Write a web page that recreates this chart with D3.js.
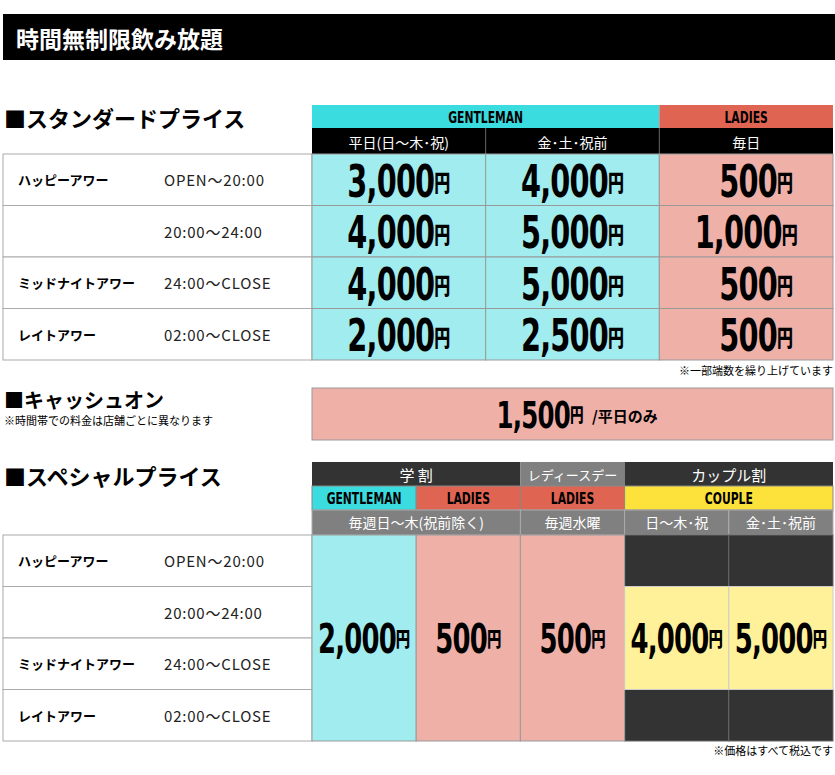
<!DOCTYPE html><html><head><meta charset="utf-8"><script src="https://cdn.jsdelivr.net/npm/d3@7"></script>
<style>body{margin:0;background:#fff}</style></head><body><script>
const periods=["ハッピーアワー","","ミッドナイトアワー","レイトアワー"];
const times=["OPEN～20:00","20:00～24:00","24:00～CLOSE","02:00～CLOSE"];
const stdCols=["平日(日～木･祝)","金･土･祝前","毎日"];
const stdPrices=[[3000,4000,500],[4000,5000,1000],[4000,5000,500],[2000,2500,500]];
const cashPrice=1500;
const spCols=["毎週日～木(祝前除く)","毎週水曜","日～木･祝","金･土･祝前"];
const spPrices=[2000,500,500,4000,5000];
const JP="'Noto Sans CJK JP',sans-serif";
const NUM="'DejaVu Sans Condensed','DejaVu Sans',sans-serif";
const svg=d3.select("body").append("svg").attr("width",835).attr("height",775);
const fmt=d3.format(",");
const cyan="#3adcdf",red="#e06452",lc="#a0ecef",lp="#efb0a8",yel="#fde23c",ly="#fff09a",dk="#333",gr="#808080",bd="#aaa";
function rect(x,y,w,h,f,s){return svg.append("rect").attr("x",x).attr("y",y).attr("width",w).attr("height",h).attr("fill",f).attr("stroke",s||"none");}
function text(x,y,t,o){o=o||{};const e=svg.append("text").attr("x",x).attr("y",y).text(t).attr("font-family",o.f||JP).attr("font-size",o.s||14).attr("font-weight",o.w||"normal").attr("fill",o.c||"#000").attr("text-anchor",o.a||"start").attr("dominant-baseline","central");return e;}
function label(x,y,t,c){return text(x,y,t,{f:"'DejaVu Sans Condensed',sans-serif",w:"bold",s:15,c:c||"#000",a:"middle"}).attr("transform",`translate(${x},${y}) scale(0.8,1.1) translate(${-x},${-y})`);}
function price(cx,cy,v,size){const g=svg.append("text").attr("x",cx).attr("y",cy).attr("text-anchor","middle").attr("dominant-baseline","central").attr("font-family",NUM).attr("font-weight","bold").attr("fill","#000");
 g.append("tspan").attr("font-size",size).attr("letter-spacing",-1).text(fmt(v));g.append("tspan").attr("font-family",JP).attr("font-weight","900").attr("font-size",size*0.5).text("円");
 g.attr("transform",`translate(${cx},${cy}) scale(0.8,1.12) translate(${-cx},${-cy})`);return g;}
function timeT(y,t){return text(164,y,t,{s:15,c:"#222"}).attr("letter-spacing",0.8);}
// title
rect(3,14,832,46,"#000");
text(16,38,"時間無制限飲み放題",{s:23,w:"bold",c:"#fff"});
// standard
text(4,117,"■スタンダードプライス",{s:22,w:"bold"});
const sx=d3.scaleLinear().domain([0,3]).range([312,833]);
const rowY=d3.scaleLinear().domain([0,4]).range([154,360]);
rect(312,105,sx(2)-312,23,cyan);label((312+sx(2))/2,117,"GENTLEMAN");
rect(sx(2),105,833-sx(2),23,red);label((sx(2)+833)/2,117,"LADIES");
rect(312,128,521,26,"#000");
stdCols.forEach((c,i)=>{text((sx(i)+sx(i+1))/2,142,c,{c:"#fff",a:"middle",s:14});if(i)svg.append("line").attr("x1",sx(i)).attr("x2",sx(i)).attr("y1",128).attr("y2",154).attr("stroke","#666");});
periods.forEach((p,r)=>{const y0=rowY(r),y1=rowY(r+1),cy=(y0+y1)/2;
 rect(3,y0,309,y1-y0,"#fff",bd);
 text(18,cy,p,{s:13,w:"bold"});timeT(cy,times[r]);
 stdPrices[r].forEach((v,i)=>{rect(sx(i),y0,sx(i+1)-sx(i),y1-y0,i<2?lc:lp,"#999");price((sx(i)+sx(i+1))/2+(i==2&&v<1000?10:0),cy+1,v,40);});});
text(833,370,"※一部端数を繰り上げています",{s:11,a:"end"});
// cash on
text(4,399,"■キャッシュオン",{s:20,w:"bold"});
text(4,420,"※時間帯での料金は店舗ごとに異なります",{s:11});
rect(312,388,521,52,lp,"#999");
price(540,414,cashPrice,34);
text(592,415,"/平日のみ",{s:15,w:"bold"});
// special
text(4,475,"■スペシャルプライス",{s:22,w:"bold"});
const px=d3.scaleLinear().domain([0,5]).range([312,833]);
const ry=d3.scaleLinear().domain([0,4]).range([535,741]);
const top1=[["学 割",0,2,dk],["レディースデー",2,3,gr],["カップル割",3,5,dk]];
top1.forEach(([t,a,b,f])=>{rect(px(a),462,px(b)-px(a),24,f);text((px(a)+px(b))/2,474,t,{c:"#fff",a:"middle",s:t.length>5?13:15});});
const top2=[["GENTLEMAN",0,1,cyan],["LADIES",1,2,red],["LADIES",2,3,red],["COUPLE",3,5,yel]];
top2.forEach(([t,a,b,f])=>{rect(px(a),486,px(b)-px(a),24,f,"#888");label((px(a)+px(b))/2,498,t);});
const top3=[[spCols[0],0,2],[spCols[1],2,3],[spCols[2],3,4],[spCols[3],4,5]];
top3.forEach(([t,a,b])=>{rect(px(a),510,px(b)-px(a),25,gr,"#aaa");text((px(a)+px(b))/2,522,t,{c:"#fff",a:"middle",s:14});});
periods.forEach((p,r)=>{const y0=ry(r),y1=ry(r+1),cy=(y0+y1)/2;
 rect(3,y0,309,y1-y0,"#fff",bd);
 text(18,cy,p,{s:13,w:"bold"});timeT(cy,times[r]);
 [3,4].forEach(i=>{if(r==0||r==3)rect(px(i),y0,px(i+1)-px(i),y1-y0,dk,"#666");});});
[[0,lc],[1,lp],[2,lp]].forEach(([i,f])=>{rect(px(i),535,px(i+1)-px(i),206,f,"#999");});
[3,4].forEach(i=>rect(px(i),ry(1),px(i+1)-px(i),ry(3)-ry(1),ly,"#ccc"));
spPrices.forEach((v,i)=>price((px(i)+px(i+1))/2,638,v,36));
text(833,750,"※価格はすべて税込です",{s:11,a:"end"});
</script></body></html>
